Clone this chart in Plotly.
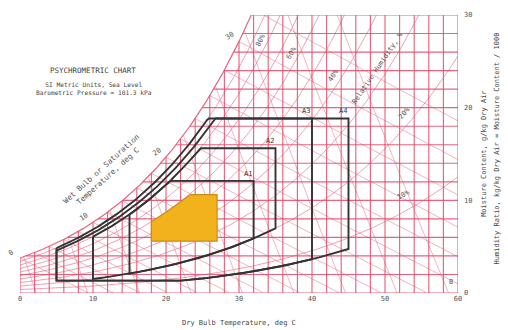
import numpy as np
import plotly.graph_objects as go

P_ATM = 101.325  # kPa, sea level

# axis ticks
x_ticks = [0, 10, 20, 30, 40, 50, 60]
y_ticks = [0, 10, 20, 30]
T_MIN, T_MAX, W_MAX = 0, 60, 30

# chart line families
db_lines = list(range(0, 61, 2))            # dry bulb, deg C
w_lines = list(range(0, 31, 2))             # moisture content, g/kg
rh_lines = [10, 20, 30, 40, 50, 60, 70, 80, 90]
wb_lines = list(range(0, 34, 2))            # wet bulb, deg C
vol_lines = [0.78, 0.80, 0.82, 0.84, 0.86, 0.88, 0.90, 0.92, 0.94]

# environmental classes (dry bulb range, RH / dew point limits)
class_names = ["A1", "A2", "A3", "A4"]
class_t_min = [15, 10, 5, 5]
class_t_max = [32, 35, 40, 45]
class_rh_min = [20, 20, 8, 8]
class_dp_min = [-12, -12, -12, -12]
class_rh_max = [80, 80, 85, 90]
class_dp_max = [17, 21, 24, 24]

# recommended envelope
rec_t_min, rec_t_max = 18, 27
rec_dp_min = 5.5
rec_rh_max = 60
rec_dp_max = 15

# labels on the saturation curve and RH curves
wb_label_vals = [0, 10, 20, 30]
rh_label_vals = [80, 60, 40, 20, 10]
rh_label_t = [33.0, 37.2, 43.0, 52.7, 52.5]
rh_label_w = [27.3, 25.9, 23.5, 19.4, 10.6]

GRID = "rgba(228,72,104,0.85)"
FINE = "rgba(236,120,142,0.7)"
INK = "#333333"
TXT = "#555555"
FONT = "DejaVu Sans Mono"


def pws(t):
    t = np.asarray(t, dtype=float)
    water = 0.61094 * np.exp(17.625 * t / (t + 243.04))
    ice = 0.61115 * np.exp(22.452 * t / (272.55 + t))
    return np.where(t >= 0, water, ice)


def w_from_pw(pw):
    return 622.0 * pw / (P_ATM - pw)


def w_sat(t):
    return w_from_pw(pws(t))


def w_rh(t, rh):
    return w_from_pw(rh / 100.0 * pws(t))


_tt = np.linspace(-20, 70, 9001)
_ww = w_sat(_tt)


def t_sat(w):
    return np.interp(w, _ww, _tt)


def cat(segments):
    xs, ys = [], []
    for x, y in segments:
        xs += list(x) + [None]
        ys += list(y) + [None]
    return xs, ys


# dry bulb verticals and moisture horizontals, cut at saturation
grid_segs = []
for t in db_lines:
    grid_segs.append(([t, t], [0, min(float(w_sat(t)), W_MAX)]))
for w in w_lines:
    grid_segs.append(([max(float(t_sat(w)), T_MIN), T_MAX], [w, w]))

# relative humidity curves
rh_segs = []
tt = np.linspace(T_MIN, T_MAX, 400)
for rh in rh_lines:
    ww = w_rh(tt, rh)
    m = ww <= W_MAX + 0.5
    rh_segs.append((tt[m], ww[m]))

# wet bulb lines starting on the saturation curve
wb_segs = []
for twb in wb_lines:
    ws = float(w_sat(twb)) / 1000.0
    t = np.linspace(twb, T_MAX, 200)
    w = ((2501 - 2.326 * twb) * ws - 1.006 * (t - twb)) / (2501 + 1.86 * t - 4.186 * twb) * 1000
    m = (w >= 0) & (w <= W_MAX)
    if m.sum() > 1:
        wb_segs.append((t[m], w[m]))

# specific volume lines
vol_segs = []
for v in vol_lines:
    w = np.linspace(0, W_MAX, 300)
    t = v * P_ATM / (0.287 * (1 + 1.608 * w / 1000)) - 273.15
    m = (w <= w_sat(t)) & (t >= T_MIN) & (t <= T_MAX)
    if m.sum() > 1:
        vol_segs.append((t[m], w[m]))

# saturation curve
t_s = np.linspace(T_MIN, float(t_sat(W_MAX)), 200)
w_s = w_sat(t_s)

fig = go.Figure()

for segs, col, wid in [(vol_segs, FINE, 0.8), (wb_segs, FINE, 0.8),
                       (rh_segs, FINE, 1.0), (grid_segs, GRID, 1.15)]:
    xs, ys = cat(segs)
    fig.add_trace(go.Scatter(x=xs, y=ys, mode="lines", line=dict(color=col, width=wid),
                             hoverinfo="skip", showlegend=False))

fig.add_trace(go.Scatter(x=t_s, y=w_s, mode="lines", line=dict(color=GRID, width=1.2),
                         hoverinfo="skip", showlegend=False))


def envelope(t0, t1, rh_lo, dp_lo, rh_hi, dp_hi, n=160):
    t = np.linspace(t0, t1, n)
    upper = np.minimum(w_rh(t, rh_hi), w_sat(dp_hi))
    lower = np.maximum(w_rh(t, rh_lo), w_sat(dp_lo))
    xs = list(t) + list(t[::-1]) + [t[0]]
    ys = list(upper) + list(lower[::-1]) + [upper[0]]
    return xs, ys, float(upper[-1])


# recommended zone (filled)
t = np.linspace(rec_t_min, rec_t_max, 120)
up = np.minimum(w_rh(t, rec_rh_max), w_sat(rec_dp_max))
lo = np.full_like(t, float(w_sat(rec_dp_min)))
fig.add_trace(go.Scatter(x=list(t) + list(t[::-1]) + [t[0]],
                         y=list(up) + list(lo[::-1]) + [up[0]],
                         mode="lines", fill="toself", fillcolor="#f2b21c",
                         line=dict(color="#c98d16", width=1.2),
                         hoverinfo="skip", showlegend=False))

annotations = []
for name, t0, t1, rlo, dlo, rhi, dhi in zip(class_names, class_t_min, class_t_max,
                                           class_rh_min, class_dp_min,
                                           class_rh_max, class_dp_max):
    xs, ys, wtop = envelope(t0, t1, rlo, dlo, rhi, dhi)
    fig.add_trace(go.Scatter(x=xs, y=ys, mode="lines", line=dict(color=INK, width=1.9),
                             hoverinfo="skip", showlegend=False))
    annotations.append(dict(x=t1, y=wtop, text=name, showarrow=False, xanchor="center",
                            yanchor="bottom", xshift=-6, yshift=1,
                            font=dict(family=FONT, size=7, color=INK)))

# wet bulb labels at the saturation curve
for twb in wb_label_vals:
    annotations.append(dict(x=twb, y=float(w_sat(twb)), text=str(twb), showarrow=False,
                            xshift=-9, yshift=5, textangle=-35,
                            font=dict(family=FONT, size=7, color=TXT)))

# relative humidity labels along their curves
PX_T, PX_W = 438 / 60, 278 / 30
for rh, tl, wl in zip(rh_label_vals, rh_label_t, rh_label_w):
    dt = 0.5
    slope = (w_rh(tl + dt, rh) - w_rh(tl - dt, rh)) / (2 * dt)
    ang = -np.degrees(np.arctan(slope * PX_W / PX_T))
    annotations.append(dict(x=tl, y=wl, text=f"{rh}%", showarrow=False, textangle=float(ang),
                            font=dict(family=FONT, size=7, color=TXT)))

slope30 = (w_rh(49.5, 30) - w_rh(48.5, 30))
annotations.append(dict(x=49.0, y=24.3, text="Relative Humidity, %", showarrow=False,
                        textangle=float(-np.degrees(np.arctan(slope30 * PX_W / PX_T))),
                        font=dict(family=FONT, size=7, color=TXT)))

annotations += [
    dict(x=0.167, y=0.80, xref="paper", yref="paper", xanchor="center", yanchor="middle",
         text="PSYCHROMETRIC CHART", showarrow=False,
         font=dict(family=FONT, size=7.5, color="#444")),
    dict(x=0.17, y=0.737, xref="paper", yref="paper", xanchor="center", yanchor="middle",
         text="SI Metric Units, Sea Level<br>Barometric Pressure = 101.3 kPa",
         showarrow=False, font=dict(family=FONT, size=6.2, color="#444")),
    dict(x=11.6, y=13.0, text="Wet Bulb or Saturation<br>Temperature, deg C", showarrow=False,
         xanchor="center", yanchor="middle",
         textangle=-42, font=dict(family=FONT, size=7.5, color=TXT)),
    dict(x=30, y=-0.108, xref="x", yref="paper", xanchor="center", yanchor="middle",
         text="Dry Bulb Temperature, deg C", showarrow=False,
         font=dict(family=FONT, size=7, color="#444")),
    dict(x=1.059, y=0.5, xref="paper", yref="paper", xanchor="center", yanchor="middle",
         text="Moisture Content, g/kg Dry Air",
         showarrow=False, textangle=-90, font=dict(family=FONT, size=7, color="#444")),
    dict(x=1.089, y=0.52, xref="paper", yref="paper", xanchor="center", yanchor="middle",
         text="Humidity Ratio, kg/kg Dry Air = Moisture Content / 1000",
         showarrow=False, textangle=-90, font=dict(family=FONT, size=7, color="#444")),
    dict(x=59.0, y=1.2, text="B", showarrow=False, font=dict(family=FONT, size=7, color=TXT)),
]

fig.update_layout(
    width=508, height=330,
    margin=dict(l=20, r=50, t=15, b=37),
    paper_bgcolor="white", plot_bgcolor="white",
    showlegend=False,
    annotations=annotations,
    xaxis=dict(range=[T_MIN, T_MAX], tickvals=x_ticks, showgrid=False, zeroline=False,
               showline=False, ticks="", tickfont=dict(family=FONT, size=7, color=TXT),
               fixedrange=True),
    yaxis=dict(range=[0, W_MAX], tickvals=y_ticks, side="right", showgrid=False,
               zeroline=False, showline=False, ticks="", ticklabelstandoff=5,
               tickfont=dict(family=FONT, size=7, color=TXT), fixedrange=True),
)

fig.write_html("out.html")
